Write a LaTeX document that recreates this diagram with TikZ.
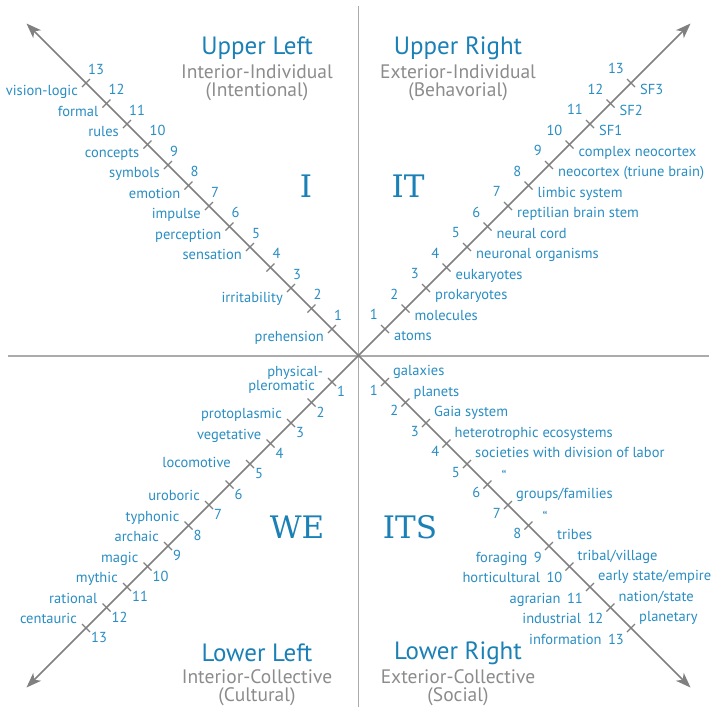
\documentclass[tikz,border=0pt]{standalone}
\usepackage{fontspec}
\setmainfont{PT Sans}
\newfontfamily\slab{DejaVu Serif}
\usetikzlibrary{arrows.meta}
\definecolor{lblue}{HTML}{2A8EC3}
\definecolor{tblue}{HTML}{1A80B6}
\definecolor{sgray}{HTML}{8C8C8C}
\definecolor{lgray}{HTML}{ABABAB}
\definecolor{agray}{HTML}{808080}
\tikzset{
  lbl/.style={text=lblue, font=\fontsize{14.5}{14}\selectfont, inner sep=0pt, text height=1.4ex, text depth=0.3ex},
  ttl/.style={text=tblue, font=\fontsize{25}{26}\selectfont, inner sep=0pt},
  sub/.style={text=sgray, font=\fontsize{19.5}{20}\selectfont, inner sep=0pt},
  big/.style={text=tblue, font=\slab\fontsize{31}{33}\selectfont, inner sep=0pt},
  axis/.style={draw=lgray, line width=1.6pt},
  diag/.style={draw=agray, line width=1.5pt, -{Stealth[length=15pt,width=11pt,inset=4pt]}},
  tickmark/.style={draw=agray, line width=1.3pt}
}
\begin{document}
\begin{tikzpicture}[x=1pt,y=-1pt]
\useasboundingbox (0,0) rectangle (714,707);
\fill[white] (0,0) rectangle (714,707);
\coordinate (c) at (358.5,355.5);
\coordinate (top) at (358.5,6);
\coordinate (bot) at (358.5,707);
\coordinate (lft) at (8,356);
\coordinate (rgt) at (709,356);
\draw[axis] (top) -- (bot);
\draw[axis] (lft) -- (rgt);
\coordinate (ulend) at (26.5,23.5);
\coordinate (urend) at (690.5,23.5);
\coordinate (llend) at (26.5,687.5);
\coordinate (lrend) at (690.5,687.5);
\draw[diag] (c) -- (ulend);
\draw[diag] (c) -- (urend);
\draw[diag] (c) -- (llend);
\draw[diag] (c) -- (lrend);
\foreach \k in {1,...,13}{
  \pgfmathsetmacro\d{26.5+20.5*(\k-1)}
  \coordinate (ul\k) at (358.5-\d,355.5-\d);
  \coordinate (ur\k) at (358.5+\d,355.5-\d);
  \coordinate (ll\k) at (358.5-\d,355.5+\d);
  \coordinate (lr\k) at (358.5+\d,355.5+\d);
  \draw[tickmark] ([shift={(-4,4)}]ul\k) -- ([shift={(4,-4)}]ul\k);
  \draw[tickmark] ([shift={(-4,-4)}]ur\k) -- ([shift={(4,4)}]ur\k);
  \draw[tickmark] ([shift={(-4,-4)}]ll\k) -- ([shift={(4,4)}]ll\k);
  \draw[tickmark] ([shift={(-4,4)}]lr\k) -- ([shift={(4,-4)}]lr\k);
  \node[lbl, anchor=west] (uln\k) at ([shift={(2,-11.5)}]ul\k) {\k};
  \node[lbl, anchor=east] (urn\k) at ([shift={(-7,-12)}]ur\k) {\k};
  \node[lbl, anchor=west] (lln\k) at ([shift={(5,12)}]ll\k) {\k};
}
\foreach \k in {1,...,8}{
  \node[lbl, anchor=east] (lrn\k) at ([shift={(-7,10.5)}]lr\k) {\k};
}
\foreach \k in {9,...,13}{
  \node[lbl, anchor=east] (lrn\k) at ([shift={(-7,13.5)}]lr\k) {\k};
}
% Upper left labels
\foreach \k/\t in {13/vision-logic,12/formal,11/rules,10/concepts,9/symbols,8/emotion,7/impulse,6/perception,5/sensation,1/prehension}{
  \node[lbl, anchor=east] (ull\k) at ([shift={(-8,10)}]ul\k) {\t};
}
\node[lbl, anchor=east] (ull3) at ([shift={(-8,11.5)}]ul3) {irritability};
% Upper right labels
\foreach \k/\t in {1/atoms,2/molecules,3/prokaryotes,4/eukaryotes,5/neuronal organisms,6/neural cord,7/reptilian brain stem,8/limbic system,9/neocortex (triune brain),10/complex neocortex,11/SF1,12/SF2,13/SF3}{
  \node[lbl, anchor=west] (url\k) at ([shift={(9,9)}]ur\k) {\t};
}
% Lower left labels
\foreach \k/\t in {3/protoplasmic,4/vegetative,7/uroboric,8/typhonic,9/archaic,10/magic,11/mythic,12/rational,13/centauric}{
  \node[lbl, anchor=east] (lll\k) at ([shift={(-9,-7)}]ll\k) {\t};
}
\node[lbl, anchor=east] (lll5) at ([shift={(-19,1)}]ll5) {locomotive};
\node[lbl, anchor=east, align=right, text height=, text depth=] (lll1) at ([shift={(-8.7,-1.7)}]ll1) {physical-\\pleromatic\hspace*{8.3pt}};
% Lower right labels
\foreach \k/\t in {1/galaxies,2/planets,3/Gaia system,4/heterotrophic ecosystems,5/societies with division of labor,7/{groups/families},9/tribes,10/{tribal/village},11/{early state/empire},12/{nation/state},13/planetary}{
  \node[lbl, anchor=west] (lrl\k) at ([shift={(8,-9)}]lr\k) {\t};
}
\node[lbl, anchor=west] (lrl6) at ([shift={(14,-6)}]lr6) {“};
\node[lbl, anchor=west] (lrl8) at ([shift={(14,-6)}]lr8) {“};
\foreach \k/\t in {9/foraging,10/horticultural,11/agrarian,12/industrial,13/information}{
  \node[lbl, anchor=east] (lrm\k) at ([shift={(-6,0)}]lrn\k.west) {\t};
}
% Titles
\node[ttl] (ult) at (257,48) {Upper Left};
\node[sub] (uls) at (257,72) {Interior-Individual};
\node[sub] (ulp) at (257,92) {(Intentional)};
\node[ttl] (urt) at (458,48) {Upper Right};
\node[sub] (urs) at (458,72) {Exterior-Individual};
\node[sub] (urp) at (458,92) {(Behavorial)};
\node[ttl] (llt) at (257,653) {Lower Left};
\node[sub] (lls) at (257,677) {Interior-Collective};
\node[sub] (llp) at (257,697) {(Cultural)};
\node[ttl] (lrt) at (458,653) {Lower Right};
\node[sub] (lrs) at (458,677) {Exterior-Collective};
\node[sub] (lrp) at (458,697) {(Social)};
% Big quadrant letters
\node[big] (bigI) at (306,186) {I};
\node[big] (bigIT) at (408,186) {IT};
\node[big] (bigWE) at (297,527) {WE};
\node[big] (bigITS) at (410,527) {ITS};
\end{tikzpicture}
\end{document}
